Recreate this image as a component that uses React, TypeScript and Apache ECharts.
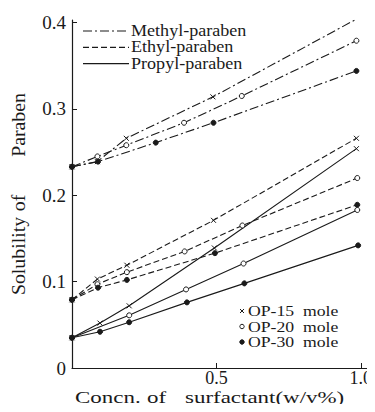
import React, { useEffect, useRef } from "react";
import * as echarts from "echarts";

// ---- data (x = surfactant concentration w/v%, y = solubility) ----
const methyl15X = [0, 0.088, 0.188, 0.488, 0.985];
const methyl15Y = [0.233, 0.239, 0.266, 0.314, 0.404];
const methyl20X = [0, 0.088, 0.188, 0.388, 0.588, 0.985];
const methyl20Y = [0.233, 0.245, 0.258, 0.284, 0.315, 0.379];
const methyl30X = [0, 0.09, 0.29, 0.49, 0.985];
const methyl30Y = [0.233, 0.239, 0.261, 0.284, 0.344];

const ethyl15X = [0, 0.088, 0.19, 0.49, 0.985];
const ethyl15Y = [0.079, 0.103, 0.119, 0.171, 0.266];
const ethyl20X = [0, 0.088, 0.19, 0.39, 0.59, 0.988];
const ethyl20Y = [0.079, 0.097, 0.111, 0.135, 0.165, 0.22];
const ethyl30X = [0, 0.09, 0.19, 0.495, 0.988];
const ethyl30Y = [0.079, 0.093, 0.102, 0.133, 0.189];

const propyl15X = [0, 0.097, 0.198, 0.493, 0.985];
const propyl15Y = [0.035, 0.052, 0.072, 0.139, 0.254];
const propyl20X = [0, 0.198, 0.395, 0.594, 0.988];
const propyl20Y = [0.035, 0.061, 0.091, 0.121, 0.183];
const propyl30X = [0, 0.097, 0.198, 0.398, 0.597, 0.991];
const propyl30Y = [0.035, 0.042, 0.053, 0.076, 0.098, 0.142];

const xTicks = [0.5, 1.0];
const yTicks = [0, 0.1, 0.2, 0.3, 0.4];
const lineLegend = ["Methyl-paraben", "Ethyl-paraben", "Propyl-paraben"];
const markerLegend = ["OP-15 mole", "OP-20 mole", "OP-30 mole"];
const yTitleWords = ["Solubility", "of", "Paraben"];
const xTitleWords = ["Concn.", "of", "surfactant(w/v%)"];

const INK = "#1a1a1a";
const SERIF = "Liberation Serif";
const DASHDOT = [9, 3, 2, 3];
const DASHED = [6, 3];

const CROSS = "path://M0,0L10,10M10,0L0,10";

function pairs(xs: number[], ys: number[]) {
  return xs.map((x, i) => [x, ys[i]]);
}

function mk(
  name: string,
  xs: number[],
  ys: number[],
  dash: number[] | "solid",
  marker: "cross" | "open" | "filled"
) {
  const symbol = marker === "cross" ? CROSS : "circle";
  return {
    type: "line",
    name,
    data: pairs(xs, ys),
    symbol,
    symbolSize: 5,
    showAllSymbol: true,
    lineStyle: { color: INK, width: 1.1, type: dash },
    itemStyle: {
      color: marker === "filled" ? INK : marker === "open" ? "#fff" : "rgba(0,0,0,0)",
      borderColor: INK,
      borderWidth: 1,
    },
    emphasis: { disabled: true },
    z: 3,
  };
}

function txt(text: string, x: number, y: number, size: number, extra: any = {}) {
  const { style, ...rest } = extra;
  return {
    type: "text",
    x,
    y,
    ...rest,
    style: {
      text,
      fontFamily: SERIF,
      fontSize: size,
      fill: INK,
      verticalAlign: "middle",
      ...(style || {}),
    },
  };
}

export default function App() {
  const ref = useRef<HTMLDivElement>(null);
  useEffect(() => {
    if (!ref.current) return;
    const chart = echarts.init(ref.current, undefined, { renderer: "svg" });

    const legendLines: any[] = [];
    const dashes: any[] = [DASHDOT, DASHED, null];
    lineLegend.forEach((t, i) => {
      const y = 31 + i * 16.3;
      legendLines.push({
        type: "line",
        shape: { x1: 83, y1: y, x2: 129, y2: y },
        style: { stroke: INK, lineWidth: 1.2, lineDash: dashes[i] || undefined },
      });
      legendLines.push(txt(t, 131, y, 16, { scaleX: 1.13 }));
    });

    const mLegend: any[] = [];
    markerLegend.forEach((t, i) => {
      const y = 311 + i * 15.5;
      if (i === 0) {
        mLegend.push({
          type: "line",
          shape: { x1: 240, y1: y - 2, x2: 244, y2: y + 2 },
          style: { stroke: INK, lineWidth: 1 },
        });
        mLegend.push({
          type: "line",
          shape: { x1: 244, y1: y - 2, x2: 240, y2: y + 2 },
          style: { stroke: INK, lineWidth: 1 },
        });
      } else {
        mLegend.push({
          type: "circle",
          shape: { cx: 242, cy: y, r: 2.2 },
          style: { fill: i === 2 ? INK : "#fff", stroke: INK, lineWidth: 1 },
        });
      }
      mLegend.push(txt(t.replace(" ", "  "), 248, y, 15, { scaleX: 1.18 }));
    });

    const yCenters = [256, 203, 125];
    const yTitle = yTitleWords.map((w, i) =>
      txt(w, 19, yCenters[i], 18, {
        rotation: Math.PI / 2,
        scaleX: 1.1,
        style: { align: "center" },
      })
    );
    const xStarts = [75, 147, 185];
    const xTitle = xTitleWords.map((w, i) => txt(w, xStarts[i], 397, 17, { scaleX: 1.35 }));

    chart.setOption({
      animation: false,
      backgroundColor: "#fff",
      grid: { left: 72, right: 3, top: 20, bottom: 44, containLabel: false },
      xAxis: {
        type: "value",
        min: 0,
        max: 1.035,
        axisLine: { show: true, lineStyle: { color: INK, width: 1.2 } },
        axisTick: { show: true, inside: true, length: 5, customValues: xTicks, lineStyle: { color: INK } },
        axisLabel: {
          customValues: xTicks,
          formatter: (v: number) => v.toFixed(1),
          color: INK,
          fontFamily: SERIF,
          fontSize: 18,
          margin: 1,
        },
        splitLine: { show: false },
      },
      yAxis: {
        type: "value",
        min: 0,
        max: 0.403,
        axisLine: { show: true, lineStyle: { color: INK, width: 1.2 } },
        axisTick: { show: true, inside: true, length: 5, customValues: yTicks, lineStyle: { color: INK } },
        axisLabel: {
          customValues: yTicks,
          formatter: (v: number) => (v === 0 ? "0" : v.toFixed(1)),
          color: INK,
          fontFamily: SERIF,
          fontSize: 19,
          margin: 6,
        },
        splitLine: { show: false },
      },
      series: [
        mk("Methyl OP-15", methyl15X, methyl15Y, DASHDOT, "cross"),
        mk("Methyl OP-20", methyl20X, methyl20Y, DASHDOT, "open"),
        mk("Methyl OP-30", methyl30X, methyl30Y, DASHDOT, "filled"),
        mk("Ethyl OP-15", ethyl15X, ethyl15Y, DASHED, "cross"),
        mk("Ethyl OP-20", ethyl20X, ethyl20Y, DASHED, "open"),
        mk("Ethyl OP-30", ethyl30X, ethyl30Y, DASHED, "filled"),
        mk("Propyl OP-15", propyl15X, propyl15Y, "solid", "cross"),
        mk("Propyl OP-20", propyl20X, propyl20Y, "solid", "open"),
        mk("Propyl OP-30", propyl30X, propyl30Y, "solid", "filled"),
      ],
      graphic: [...legendLines, ...mLegend, ...yTitle, ...xTitle],
    });
    return () => chart.dispose();
  }, []);
  return <div ref={ref} style={{ width: 375, height: 412, margin: -8 }} />;
}
